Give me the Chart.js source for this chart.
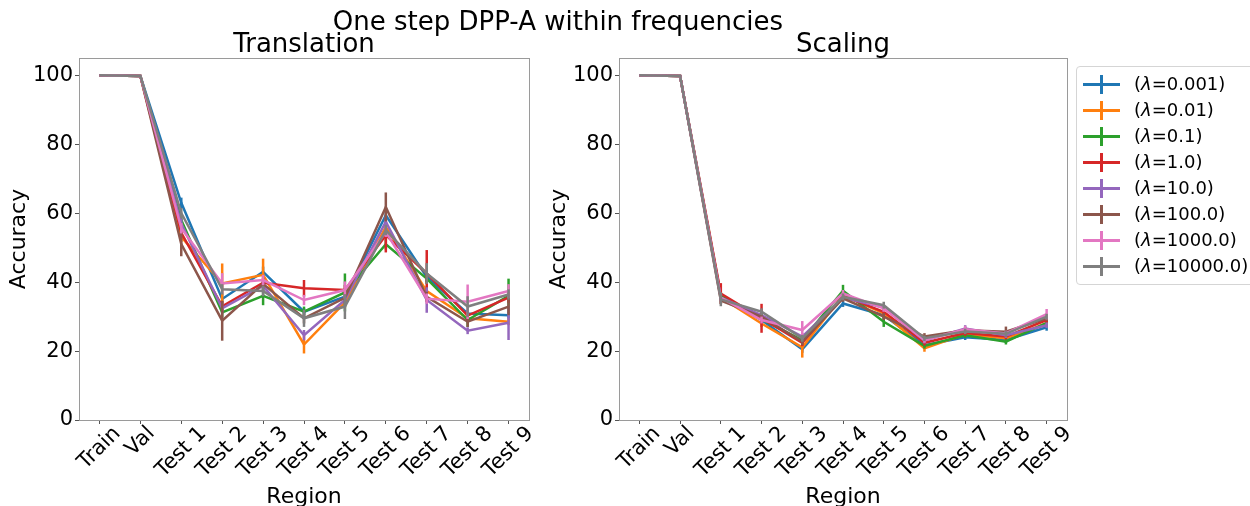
<!DOCTYPE html>
<html>
<head>
<meta charset="utf-8">
<script src="https://cdn.jsdelivr.net/npm/chart.js@4.4.0/dist/chart.umd.min.js"></script>
<style>
  body { margin: 0; background: #fff; font-family: "DejaVu Sans", sans-serif; }
  #fig { position: relative; width: 1250px; height: 506px; overflow: hidden; }
  canvas { position: absolute; top: 0; }
  #c1 { left: 0; }
  #c2 { left: 540px; }
  #suptitle { position: absolute; left: 0; width: 1116px; top: 8px; text-align: center;
              font-size: 26px; line-height: 26px; color: #000; }
  #legend { position: absolute; left: 1076px; top: 66px; width: 190px; height: 219px;
            box-sizing: border-box; border: 1px solid #d5d5d5; border-radius: 4px;
            padding-top: 4px; font-size: 18px; color: #000; }
  .row { position: relative; height: 26px; line-height: 26px; padding-left: 57px; white-space: nowrap; }
  .hl { position: absolute; left: 6px; top: 12px; width: 37px; height: 3px; }
  .vl { position: absolute; left: 23px; top: 4px; width: 3px; height: 19px; }
</style>
</head>
<body>
<div id="fig">
  <canvas id="c1" width="540" height="506"></canvas>
  <canvas id="c2" width="540" height="506"></canvas>
  <div id="suptitle">One step DPP-A within frequencies</div>
  <div id="legend"></div>
</div>
<script>
var regions = ['Train', 'Val', 'Test 1', 'Test 2', 'Test 3', 'Test 4', 'Test 5', 'Test 6', 'Test 7', 'Test 8', 'Test 9'];
var lambdas = ['0.001', '0.01', '0.1', '1.0', '10.0', '100.0', '1000.0', '10000.0'];
var colors = ['#1f77b4', '#ff7f0e', '#2ca02c', '#d62728', '#9467bd', '#8c564b', '#e377c2', '#7f7f7f'];
var yTicks = [0, 20, 40, 60, 80, 100];

// translation: mean accuracy per lambda (rows) and region (columns)
var transMean = [
  [100, 99.8, 63.0, 35.1, 43.0, 31.4, 35.8, 59.4, 41.5, 30.9, 30.4],
  [100, 99.8, 53.1, 39.6, 42.1, 21.9, 34.1, 56.0, 37.4, 29.5, 28.5],
  [100, 99.8, 58.0, 31.2, 36.0, 31.4, 37.0, 51.0, 41.0, 29.0, 36.0],
  [100, 99.8, 54.3, 33.0, 39.8, 38.2, 37.7, 53.6, 42.5, 30.3, 35.5],
  [100, 99.8, 57.0, 32.4, 38.9, 24.6, 34.8, 57.5, 34.8, 25.9, 28.2],
  [100, 99.8, 51.0, 28.8, 39.5, 29.5, 35.4, 61.8, 35.7, 28.5, 32.9],
  [100, 99.8, 55.6, 39.6, 40.6, 34.8, 37.7, 54.6, 35.2, 34.3, 37.4],
  [100, 99.8, 60.0, 37.9, 37.4, 29.5, 32.9, 55.1, 42.5, 32.9, 36.4]
];
var transErr = [
  [0, 0.1, 1.5, 1.5, 1.5, 1.0, 1.0, 1.5, 1.5, 1.0, 1.0],
  [0, 0.1, 1.5, 5.8, 4.7, 2.6, 1.5, 1.5, 1.5, 1.0, 1.0],
  [0, 0.1, 1.5, 1.5, 2.7, 1.5, 5.5, 1.5, 1.5, 2.0, 5.0],
  [0, 0.1, 1.5, 1.5, 1.5, 2.4, 1.5, 5.0, 6.8, 1.5, 1.5],
  [0, 0.1, 1.5, 1.5, 1.5, 1.5, 1.5, 1.5, 3.7, 1.0, 5.0],
  [0, 0.1, 3.5, 5.8, 1.5, 1.5, 1.5, 4.2, 1.5, 1.5, 2.5],
  [0, 0.1, 1.5, 3.0, 1.5, 1.5, 2.5, 1.5, 1.5, 5.0, 2.0],
  [0, 0.1, 1.5, 1.5, 1.5, 2.5, 3.6, 1.5, 3.0, 3.0, 1.5]
];

// scaling
var scaleMean = [
  [100, 99.8, 35.5, 29.0, 20.5, 33.8, 30.4, 21.7, 24.0, 23.2, 26.9],
  [100, 99.8, 35.5, 28.0, 21.1, 36.2, 30.9, 20.8, 24.9, 23.7, 28.0],
  [100, 99.8, 36.2, 29.2, 23.2, 37.5, 28.5, 21.5, 24.6, 22.7, 28.2],
  [100, 99.8, 36.7, 29.5, 22.4, 36.0, 31.4, 22.4, 25.2, 24.2, 29.0],
  [100, 99.8, 35.5, 30.4, 24.2, 35.5, 32.6, 23.0, 26.5, 24.6, 27.5],
  [100, 99.8, 34.6, 30.0, 22.7, 35.3, 30.0, 24.2, 26.0, 25.6, 29.5],
  [100, 99.8, 35.5, 29.0, 26.1, 36.7, 32.4, 23.2, 26.3, 25.1, 30.7],
  [100, 99.8, 35.0, 31.4, 23.7, 35.7, 33.3, 23.7, 25.7, 25.0, 30.0]
];
var scaleErr = [
  [0, 0.1, 1.0, 1.0, 1.0, 1.0, 1.0, 0.8, 0.8, 0.8, 1.0],
  [0, 0.1, 1.0, 1.0, 3.0, 1.0, 1.0, 1.0, 0.8, 0.8, 0.8],
  [0, 0.1, 1.0, 1.0, 1.0, 1.7, 1.5, 0.8, 0.8, 0.8, 0.8],
  [0, 0.1, 3.0, 4.2, 1.0, 1.0, 1.0, 0.8, 0.8, 0.8, 0.8],
  [0, 0.1, 1.0, 1.0, 1.0, 1.0, 1.0, 0.8, 1.0, 0.8, 0.8],
  [0, 0.1, 1.0, 1.0, 1.0, 1.0, 1.0, 1.0, 0.8, 1.5, 0.8],
  [0, 0.1, 1.0, 1.0, 2.6, 1.0, 1.0, 0.8, 1.0, 0.8, 1.5],
  [0, 0.1, 2.0, 1.0, 1.0, 1.0, 1.0, 0.8, 0.8, 0.8, 0.8]
];

Chart.defaults.font.family = '"DejaVu Sans", sans-serif';
Chart.defaults.color = '#000';

// vertical error bars, drawn right after each line
var errorBars = {
  id: 'errorBars',
  afterDatasetDraw: function (chart, args) {
    var ds = chart.data.datasets[args.index];
    var y = chart.scales.y, ctx = chart.ctx;
    ctx.save();
    ctx.strokeStyle = ds.borderColor;
    ctx.lineWidth = 2.5;
    args.meta.data.forEach(function (pt, i) {
      var e = ds.errors[i];
      if (!e) return;
      ctx.beginPath();
      ctx.moveTo(pt.x, y.getPixelForValue(ds.data[i] - e));
      ctx.lineTo(pt.x, y.getPixelForValue(ds.data[i] + e));
      ctx.stroke();
    });
    ctx.restore();
  }
};

// box around the plot + 45 degree tick labels centred on the tick
var frameAndLabels = {
  id: 'frameAndLabels',
  afterDraw: function (chart) {
    var ctx = chart.ctx, a = chart.chartArea, sx = chart.scales.x;
    ctx.save();
    ctx.strokeStyle = '#9a9a9a';
    ctx.lineWidth = 1;
    ctx.strokeRect(Math.round(a.left) + 0.5, Math.round(a.top) + 0.5,
                   Math.round(a.right - a.left), Math.round(a.bottom - a.top));
    ctx.font = '21px "DejaVu Sans"';
    ctx.fillStyle = '#000';
    ctx.textAlign = 'center';
    ctx.textBaseline = 'middle';
    regions.forEach(function (lab, i) {
      var x = sx.getPixelForTick(i);
      var w = ctx.measureText(lab).width;
      var half = (w + 18) / 2 * Math.SQRT1_2;
      ctx.save();
      ctx.translate(x, a.bottom + 4 + half);
      ctx.rotate(-Math.PI / 4);
      ctx.fillText(lab, 0, 0);
      ctx.restore();
    });
    ctx.restore();
  }
};

function makeChart(id, title, means, errs, rightPad) {
  var datasets = lambdas.map(function (l, k) {
    return {
      label: '(\u03bb=' + l + ')',
      data: means[k],
      errors: errs[k],
      borderColor: colors[k],
      backgroundColor: colors[k],
      borderWidth: 2.5,
      pointRadius: 0,
      tension: 0,
      order: lambdas.length - k
    };
  });
  return new Chart(document.getElementById(id), {
    type: 'line',
    data: { labels: regions, datasets: datasets },
    plugins: [errorBars, frameAndLabels],
    options: {
      responsive: false,
      animation: false,
      layout: { padding: { top: 0, left: 0, bottom: 0, right: rightPad } },
      plugins: {
        legend: { display: false },
        tooltip: { enabled: false },
        title: { display: true, text: title, fullSize: false,
                 font: { size: 26, weight: 'normal', lineHeight: 1 }, color: '#000',
                 padding: { top: 32, bottom: 0 } }
      },
      scales: {
        x: {
          type: 'category',
          offset: true,
          grid: { drawOnChartArea: false, offset: false, tickLength: 4, color: '#555' },
          border: { display: false },
          ticks: { display: false },
          title: { display: true, text: 'Region', font: { size: 22 }, color: '#000', padding: { bottom: -4 } },
          afterFit: function (s) { s.height = 86; }
        },
        y: {
          min: 0,
          max: 105,
          grid: { drawOnChartArea: false, tickLength: 4, color: '#555' },
          border: { display: false },
          ticks: { font: { size: 21 }, color: '#000', padding: 2 },
          afterBuildTicks: function (s) { s.ticks = yTicks.map(function (v) { return { value: v }; }); },
          title: { display: true, text: 'Accuracy', font: { size: 22 }, color: '#000', padding: { top: 6 } },
          afterFit: function (s) { s.width = 79; }
        }
      }
    }
  });
}

makeChart('c1', 'Translation', transMean, transErr, 11);
makeChart('c2', 'Scaling', scaleMean, scaleErr, 13);

// shared legend
var leg = document.getElementById('legend');
lambdas.forEach(function (l, k) {
  var row = document.createElement('div');
  row.className = 'row';
  row.innerHTML = '<span class="hl" style="background:' + colors[k] + '"></span>' +
    '<span class="vl" style="background:' + colors[k] + '"></span>' +
    '(<i>\u03bb</i>=' + l + ')';
  leg.appendChild(row);
});
</script>
</body>
</html>
